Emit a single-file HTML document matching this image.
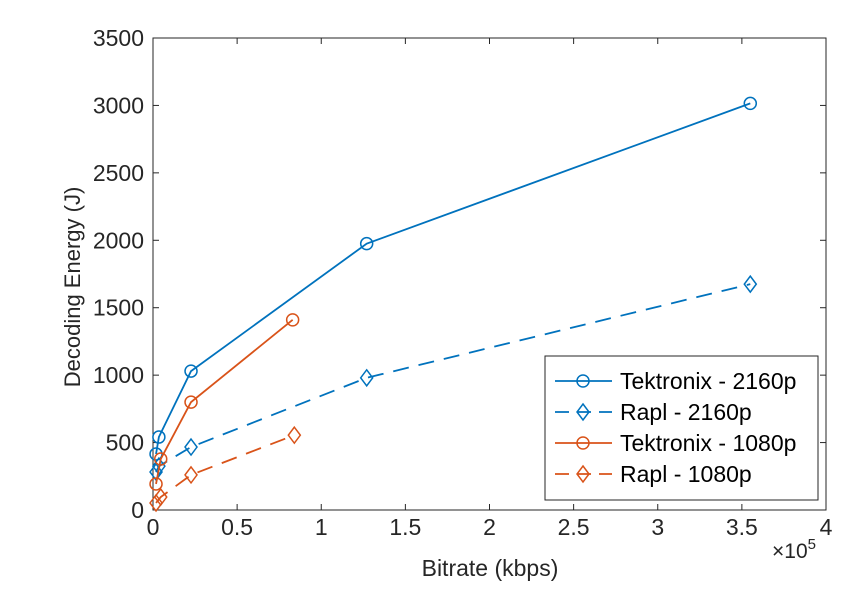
<!DOCTYPE html>
<html><head><meta charset="utf-8"><style>
body{margin:0;background:#fff;}
svg{font-family:"Liberation Sans",Helvetica,Arial,sans-serif;}
</style></head><body>
<svg id="chart" width="860" height="600" xmlns="http://www.w3.org/2000/svg"></svg>
<script>
const xTicks=[0,0.5,1,1.5,2,2.5,3,3.5,4];
const xTickLabels=["0","0.5","1","1.5","2","2.5","3","3.5","4"];
const yTicks=[0,500,1000,1500,2000,2500,3000,3500];
const tek2160x=[0.018,0.035,0.226,1.27,3.55];
const tek2160y=[415,541,1030,1975,3015];
const rapl2160x=[0.018,0.035,0.226,1.27,3.55];
const rapl2160y=[282,325,467,980,1675];
const tek1080x=[0.018,0.046,0.226,0.83];
const tek1080y=[193,378,800,1410];
const rapl1080x=[0.018,0.046,0.226,0.84];
const rapl1080y=[52,96,260,555];
const seriesNames=["Tektronix - 2160p","Rapl - 2160p","Tektronix - 1080p","Rapl - 1080p"];

const L=153,R=826,T=38,B=510;
const sx=v=>L+(v-0)/(4-0)*(R-L);
const sy=v=>B-(v-0)/(3500-0)*(B-T);
const svg=document.getElementById('chart');
const NS="http://www.w3.org/2000/svg";
function mk(tag,attrs,parent){const e=document.createElementNS(NS,tag);for(const k in attrs)e.setAttribute(k,attrs[k]);(parent||svg).appendChild(e);return e;}

const box=mk('rect',{x:L,y:T,width:R-L,height:B-T,fill:'none',stroke:'#262626','stroke-width':1});


xTicks.forEach((t,i)=>{
  const x=sx(t);
  mk('line',{x1:x,x2:x,y1:B,y2:B-6,stroke:'#262626'});
  mk('line',{x1:x,x2:x,y1:T,y2:T+6,stroke:'#262626'});
  const tx=mk('text',{x:x,y:B+25,'text-anchor':'middle','font-size':23,fill:'#262626'});
  tx.textContent=xTickLabels[i];
  
  
});
yTicks.forEach(t=>{
  const y=sy(t);
  mk('line',{x1:L,x2:L+6,y1:y,y2:y,stroke:'#262626'});
  mk('line',{x1:R,x2:R-6,y1:y,y2:y,stroke:'#262626'});
  const tx=mk('text',{x:L-9,y:y+8,'text-anchor':'end','font-size':23,fill:'#262626'});
  tx.textContent=t;
  
  
});
const xt=mk('text',{x:490,y:576,'text-anchor':'middle','font-size':23,fill:'#262626'});
xt.textContent='Bitrate (kbps)';


const yt=mk('text',{x:0,y:0,transform:'translate(80,287) rotate(-90)','text-anchor':'middle','font-size':22,fill:'#262626'});
yt.textContent='Decoding Energy (J)';


const ex=mk('text',{x:772,y:558,'font-size':21,fill:'#262626'});
ex.innerHTML='×10<tspan dy="-9" font-size="15">5</tspan>';



function marker(g,type,x,y,color){
  if(type==='o') return mk('circle',{cx:x,cy:y,r:6,fill:'none',stroke:color,'stroke-width':1.5},g);
  return mk('polygon',{points:`${x},${y-8} ${x+6},${y} ${x},${y+8} ${x-6},${y}`,fill:'none',stroke:color,'stroke-width':1.5},g);
}
const blue='#0072BD',orange='#D95319';
const series=[[tek2160x,tek2160y,blue,'o',''],[rapl2160x,rapl2160y,blue,'d','16 10'],[tek1080x,tek1080y,orange,'o',''],[rapl1080x,rapl1080y,orange,'d','16 10']];
series.forEach((s,i)=>{
  const g=mk('g',{});
  
  
  const pts=s[0].map((v,j)=>sx(v)+','+sy(s[1][j])).join(' ');
  const pl=mk('polyline',{points:pts,fill:'none',stroke:s[2],'stroke-width':1.8,'stroke-dasharray':s[4]},g);
  
  
  s[0].forEach((v,j)=>{
    const m=marker(g,s[3],sx(v),sy(s[1][j]),s[2]);
    
    
  });
});
const lg=mk('g',{});


mk('rect',{x:545,y:356,width:273,height:144,fill:'#fff',stroke:'#262626'},lg);
series.forEach((s,i)=>{
  const y=381+i*31;
  const e=mk('g',{},lg);
  
  
  mk('line',{x1:555,x2:612,y1:y,y2:y,stroke:s[2],'stroke-width':1.8,'stroke-dasharray':s[4]?'14 8':''},e);
  marker(e,s[3],583,y,s[2]);
  const t=mk('text',{x:620,y:y+8,'font-size':23,fill:'#000'},e);
  t.textContent=seriesNames[i];
});
</script>
</body></html>
